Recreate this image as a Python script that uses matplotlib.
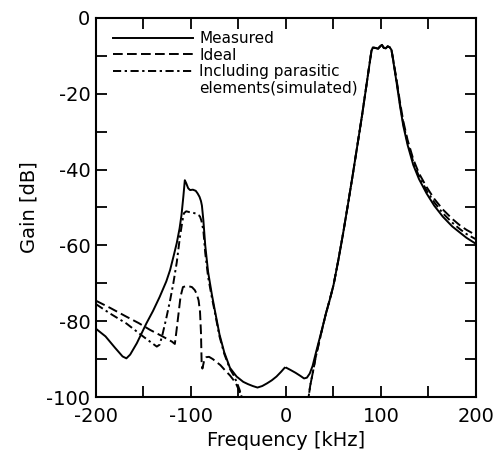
import numpy as np
import matplotlib
matplotlib.use("Agg")
import matplotlib.pyplot as plt

# --- data (frequency in kHz, gain in dB) ---
measured_f = [-200, -190, -180, -172, -168, -164, -157, -147, -140, -133, -126, -122,
              -118, -115, -112, -110, -108, -106.5, -105, -103, -101, -98, -95, -93,
              -91, -89.5, -88.5, -87, -85, -82, -78, -75, -70, -65, -59, -52, -45,
              -40, -35, -30, -25, -20, -15, -10, -5, -1.5, -0.8,
              0.5, 5, 10, 15, 19, 22, 25, 28, 32, 37, 42, 46, 50, 55, 60, 65, 70, 75,
              80, 85, 88, 90, 91.5, 94, 97, 99, 101, 103, 105, 107, 109, 111, 113,
              116.5, 120, 123.5, 128, 134, 140, 148, 156, 165, 175, 183, 190, 200]
measured_g = [-82, -84, -87, -89.3, -89.8, -88.8, -85.8, -80.6, -77.3, -73.6, -69.5, -66.5,
              -62.5, -59.4, -55.5, -52, -47, -42.8, -43.6, -44.9, -45.4, -45.3, -45.6, -46.3,
              -47.2, -48.3, -49.5, -53.3, -60, -67, -73, -77, -83.5, -88.2, -92.3, -94.6, -96,
              -96.6, -97.1, -97.5, -97.1, -96.4, -95.6, -94.6, -93.3, -92.3, np.nan,
              -92.3, -92.9, -93.6, -94.4, -95.1, -94.9, -93.8, -91.8, -87.8, -83, -78, -74.4,
              -70.5, -64, -57, -49.5, -41.8, -33.8,
              -25.8, -17.2, -12, -8.6, -7.8, -7.9, -8.1, -7.5, -7.1, -7.9, -8.0, -7.5, -7.7,
              -8.4, -11.5,
              -17.2, -23.2, -28.5, -33.5, -38.8, -42.5, -46.3, -49.5, -52.4, -55, -56.6,
              -58, -59.6]

ideal_f = [-200, -185, -168, -155, -143, -130, -120, -117, -115.5, -113.5, -111, -108.5,
           -106, -102, -99, -96, -94, -92, -90.5, -89.5, -88.8, -88, -86, -84, -81, -77,
           -73, -69, -64, -59, -55, -52, -49, -46, -45,
           22.5, 23.5, 25.5, 28.5, 31, 37, 42, 46, 50, 55, 60, 65, 70, 75, 80, 85, 88, 90,
           91.5, 94, 97, 99, 101, 103, 105, 107, 109, 111, 113,
           116.5, 120, 123.5, 128, 134, 140, 148, 156, 165, 175, 183, 190, 200]
ideal_g = [-74.6, -76.5, -78.8, -80.5, -82.3, -84, -85.4, -86, -83, -78.8, -73.5, -71,
           -70.8, -70.8, -71, -71.8, -72.8, -74.5, -77.5, -83, -91, -92.5, -90.2, -89.5, -89.4, -90,
           -90.8, -91.6, -93, -94.3, -95.6, -96.8, -98.5, -100.5, -102,
           -102, -100.5, -97, -93.2, -89.8, -83.2, -78, -74.4, -70.5, -64, -57, -49.5, -41.8,
           -33.8, -25.8, -17.2, -12, -8.6,
           -7.8, -7.9, -8.1, -7.5, -7.1, -7.9, -8.0, -7.5, -7.7, -8.4, -11.2,
           -16.5, -22.2, -27.3, -32.2, -37.3, -41, -44.6, -47.7, -50.5, -53, -54.7, -55.9, -57.3]

parasitic_f = [-200, -185, -168, -150, -142, -136, -133, -130, -126, -122, -118.6, -115,
               -111.6, -109, -107.4, -105, -102, -99, -95, -92, -90.5, -89, -87, -85, -82,
               -78, -75, -70, -65, -59, -55, -52, -49, -46, -44,
               22.5, 23.5, 25.5, 28.5, 31, 37, 42, 46, 50, 55, 60, 65, 70, 75, 80, 85, 88,
               90, 91.5, 94, 97, 99, 101, 103, 105, 107, 109, 111, 113,
               116.5, 120, 123.5, 128, 134, 140, 148, 156, 165, 175, 183, 190, 200]
parasitic_g = [-75.5, -78, -80.6, -84.1, -85.6, -86.7, -86.2, -83.5, -79.2, -74.5, -70, -64.5,
               -57.7, -53.5, -51.5, -51, -51.2, -51.3, -51.6, -52, -52.4, -53.5, -56, -62, -68.3,
               -73.8, -77.5, -84, -88.6, -92.6, -94.3, -96, -98, -100.5, -102,
               -102, -100.5, -97, -93.2, -89.8, -83.2, -78, -74.4, -70.5, -64, -57, -49.5,
               -41.8, -33.8, -25.8, -17.2, -12,
               -8.6, -7.8, -7.9, -8.1, -7.5, -7.1, -7.9, -8.0, -7.5, -7.7, -8.4, -11.3,
               -16.8, -22.7, -27.9, -32.9, -38, -41.8, -45.5, -48.6, -51.5, -54, -55.7, -57, -58.4]

x_ticks = list(range(-200, 201, 50))
y_ticks = list(range(-100, 1, 10))

plt.rcParams['font.family'] = ['DejaVu Sans']
plt.rcParams['axes.unicode_minus'] = False

fig = plt.figure(figsize=(5.01, 4.61), dpi=100)
ax = fig.add_axes([0.1916, 0.1388, 0.7585, 0.8222])

lw = 1.4
ax.plot(measured_f, measured_g, color='black', lw=lw, label='Measured')
ax.plot(ideal_f, ideal_g, color='black', lw=lw, dashes=(5, 2.2), label='Ideal')
ax.plot(parasitic_f, parasitic_g, color='black', lw=lw, dashes=(4.2, 1.8, 1.2, 1.8),
        label='Including parasitic')
ax.plot([], [], color='none', label='elements(simulated)')

ax.set_xlim(-200, 200)
ax.set_ylim(-100, 0)
ax.set_xticks(x_ticks)
ax.set_xticklabels([str(t) if t % 100 == 0 else '' for t in x_ticks])
ax.set_yticks(y_ticks)
ax.set_yticklabels([str(t) if t % 20 == 0 else '' for t in y_ticks])
ax.tick_params(direction='in', length=8, width=1.3, top=True, right=True, labelsize=14)
ax.tick_params(axis='x', pad=7)
ax.tick_params(axis='y', pad=4)
for s in ax.spines.values():
    s.set_linewidth(1.5)

ax.set_xlabel('Frequency [kHz]', fontsize=14, labelpad=4)
ax.set_ylabel('Gain [dB]', fontsize=14, labelpad=6)

ax.legend(loc='upper left', bbox_to_anchor=(0.045, 0.966), frameon=False, fontsize=11,
          handlelength=5.2, handletextpad=0.45, labelspacing=0.11, borderpad=0,
          borderaxespad=0)

fig.savefig('out.png', dpi=100)
